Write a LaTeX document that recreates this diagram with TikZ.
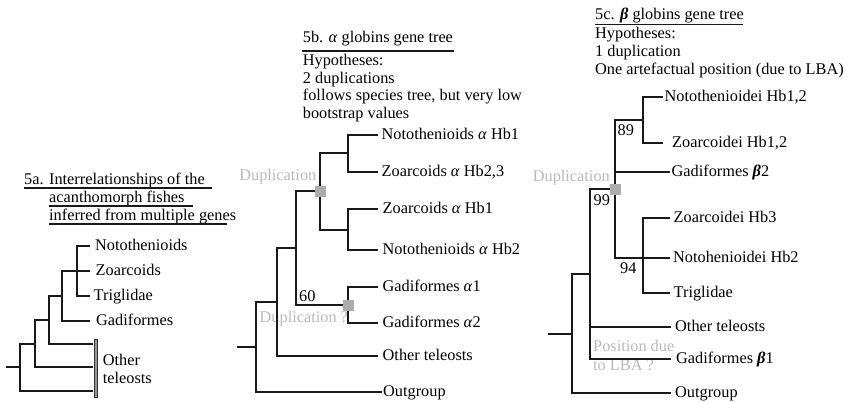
\documentclass[tikz,border=0pt]{standalone}
\usepackage{fontspec}
\setmainfont{Liberation Serif}
\definecolor{greytxt}{RGB}{185,185,185}
\definecolor{greysq}{RGB}{172,172,172}
\definecolor{barfill}{RGB}{150,150,150}
\newcommand{\figfont}{\fontsize{16.3}{17.7}\selectfont}
\newcommand{\al}{\textit{α}}
\newcommand{\be}{\textbf{\textit{β}}}
\tikzset{
  br/.style={line width=1.5pt, draw=black!90},
  ul/.style={line width=1.1pt, draw=black!90},
  leaf/.style={anchor=west, inner xsep=4pt, inner ysep=0pt, text height=11pt, text depth=1.6pt, font=\figfont},
  hdr/.style={anchor=base west, inner sep=0pt, font=\figfont},
  gtxt/.style={text=greytxt, inner sep=0pt, font=\figfont},
  bs/.style={anchor=base west, inner sep=0pt, font=\figfont},
  dupsq/.style={fill=greysq, minimum size=11pt, inner sep=0pt},
  barbox/.style={draw=black!80, fill=barfill, line width=0.9pt, minimum width=3.3pt, minimum height=58pt, inner sep=0pt}
}
\begin{document}
\begin{tikzpicture}[x=1pt,y=-1pt]
\path[use as bounding box] (0,0) rectangle (856,402);

%% ---------------- 5a ----------------
\node[hdr] (a-h1) at (24,184.5) {5a. Interrelationships of the};
\node[hdr] (a-h2) at (49,202.5) {acanthomorph fishes};
\node[hdr] (a-h3) at (49,220.5) {inferred from multiple genes};
\draw[ul] (24,188) -- (212,188);
\draw[ul] (49,206) -- (193,206);
\draw[ul] (49,224) -- (227,224);

\coordinate (a-t) at (77,271);
\coordinate (a-g) at (62,296);
\coordinate (a-n3) at (49,320);
\coordinate (a-n2) at (35,344);
\coordinate (a-n1) at (20,367);
\coordinate (a-r) at (6,367);
\node[leaf, inner xsep=5pt] (a-l1) at (90,246) {Notothenioids};
\node[leaf, inner xsep=5.5pt] (a-l2) at (90,271) {Zoarcoids};
\node[leaf, inner xsep=3.5pt] (a-l3) at (90,296) {Triglidae};
\node[leaf, inner xsep=6pt] (a-l4) at (90,321) {Gadiformes};
\coordinate (a-o1) at (93,344);
\coordinate (a-o2) at (93,367);
\coordinate (a-o3) at (93,391);
\node[barbox] (a-bar) at (95.6,368) {};
\node[hdr] (a-ot1) at (102.7,365) {Other};
\node[hdr] (a-ot2) at (102.7,383.3) {teleosts};

\draw[br] (a-t) |- (a-l1.west);
\draw[br] (a-t) |- (a-l3.west);
\draw[br] (a-t) -- (a-l2.west);
\draw[br] (a-g) |- (a-t);
\draw[br] (a-g) |- (a-l4.west);
\draw[br] (a-n3) |- (a-g);
\draw[br] (a-n3) |- (a-o1);
\draw[br] (a-n2) |- (a-n3);
\draw[br] (a-n2) |- (a-o2);
\draw[br] (a-n1) |- (a-n2);
\draw[br] (a-n1) |- (a-o3);
\draw[br] (a-r) -- (a-n1);

%% ---------------- 5b ----------------
\node[hdr] (b-h1) at (302.7,42.7) {5b. \al\ globins gene tree};
\draw[ul] (302,51) -- (454,51);
\node[hdr] (b-h2) at (302.7,65.5) {Hypotheses:};
\node[hdr] (b-h3) at (302.7,83) {2 duplications};
\node[hdr] (b-h4) at (302.7,100.8) {follows species tree, but very low};
\node[hdr] (b-h5) at (302.7,118.5) {bootstrap values};

\node[gtxt, anchor=base east] (b-dup1) at (316.5,180) {Duplication};
\node[gtxt, anchor=base west] (b-dup2) at (259.5,322.7) {Duplication ?};

\node[leaf] (b-l1) at (377.5,135) {Notothenioids \al\ Hb1};
\node[leaf] (b-l2) at (377.5,172) {Zoarcoids \al\ Hb2,3};
\node[leaf, inner xsep=5pt] (b-l3) at (377.5,209) {Zoarcoids \al\ Hb1};
\node[leaf, inner xsep=5pt] (b-l4) at (377.5,250) {Notothenioids \al\ Hb2};
\node[leaf, inner xsep=5pt] (b-l5) at (377.5,287) {Gadiformes \al1};
\node[leaf, inner xsep=5pt] (b-l6) at (377.5,323) {Gadiformes \al2};
\node[leaf, inner xsep=5pt] (b-l7) at (377.5,356) {Other teleosts};
\node[leaf, inner xsep=1.5pt] (b-l8) at (381.5,392) {Outgroup};

\coordinate (b-c1) at (348,153);
\coordinate (b-c2) at (348,230);
\coordinate (b-d1) at (320,191);
\coordinate (b-c3) at (348,305);
\coordinate (b-n4) at (296,248);
\coordinate (b-n5) at (277,302);
\coordinate (b-n6) at (256,347);
\coordinate (b-r) at (237,347);

\draw[br] (b-c1) |- (b-l1.west);
\draw[br] (b-c1) |- (b-l2.west);
\draw[br] (b-c2) |- (b-l3.west);
\draw[br] (b-c2) |- (b-l4.west);
\draw[br] (b-d1) |- (b-c1);
\draw[br] (b-d1) |- (b-c2);
\draw[br] (b-c3) |- (b-l5.west);
\draw[br] (b-c3) |- (b-l6.west);
\draw[br] (b-n4) |- (b-d1);
\draw[br] (b-n4) |- (b-c3);
\draw[br] (b-n5) |- (b-n4);
\draw[br] (b-n5) |- (b-l7.west);
\draw[br] (b-n6) |- (b-n5);
\draw[br] (b-n6) |- (b-l8.west);
\draw[br] (b-r) -- (b-n6);
\node[dupsq] (b-sq1) at (b-d1) {};
\node[dupsq] (b-sq2) at (b-c3) {};
\node[bs] (b-bs60) at (299,301.5) {60};

%% ---------------- 5c ----------------
\node[hdr] (c-h1) at (595,19.3) {5c. \be\ globins gene tree};
\draw[ul] (595,24.5) -- (743,24.5);
\node[hdr] (c-h2) at (595,38.5) {Hypotheses:};
\node[hdr] (c-h3) at (595,56) {1 duplication};
\node[hdr] (c-h4) at (595,74) {One artefactual position (due to LBA)};

\node[gtxt, anchor=base east] (c-dup) at (610,181) {Duplication};
\node[gtxt, anchor=base west] (c-pos1) at (593,351.5) {Position due};
\node[gtxt, anchor=base west] (c-pos2) at (593,370) {to LBA ?};

\node[leaf, inner xsep=1.5pt] (c-l1) at (663,97) {Notothenioidei Hb1,2};
\node[leaf, inner xsep=9pt] (c-l2) at (663,143) {Zoarcoidei Hb1,2};
\node[leaf, inner xsep=1.5pt] (c-l3) at (670,172) {Gadiformes \be2};
\node[leaf, inner xsep=3.5pt] (c-l4) at (670,218) {Zoarcoidei Hb3};
\node[leaf, inner xsep=3pt] (c-l5) at (670,258) {Notohenioidei Hb2};
\node[leaf, inner xsep=3.5pt] (c-l6) at (670,293) {Triglidae};
\node[leaf, inner xsep=4pt] (c-l7) at (671,327) {Other teleosts};
\node[leaf, inner xsep=5pt] (c-l8) at (671,359) {Gadiformes \be1};
\node[leaf, inner xsep=4pt] (c-l9) at (671,393) {Outgroup};

\coordinate (c-c1) at (643,120);
\coordinate (c-c2) at (643,258);
\coordinate (c-d) at (615,189);
\coordinate (c-n) at (590,274);
\coordinate (c-m) at (572,334);
\coordinate (c-r) at (548,334);

\draw[br] (c-c1) |- (c-l1.west);
\draw[br] (c-c1) |- (c-l2.west);
\draw[br] (c-c2) |- (c-l4.west);
\draw[br] (c-c2) |- (c-l6.west);
\draw[br] (c-c2) -- (c-l5.west);
\draw[br] (c-d) |- (c-c1);
\draw[br] (c-d) |- (c-l3.west);
\draw[br] (c-d) |- (c-c2);
\draw[br] (c-n) |- (c-d);
\draw[br] (c-n) |- (c-l7.west);
\draw[br] (c-n) |- (c-l8.west);
\draw[br] (c-m) |- (c-n);
\draw[br] (c-m) |- (c-l9.west);
\draw[br] (c-r) -- (c-m);
\node[dupsq] (c-sq) at (c-d) {};
\node[bs] (c-bs89) at (617.5,135) {89};
\node[bs] (c-bs99) at (593.5,205.5) {99};
\node[bs] (c-bs94) at (620,273.5) {94};
\end{tikzpicture}
\end{document}
